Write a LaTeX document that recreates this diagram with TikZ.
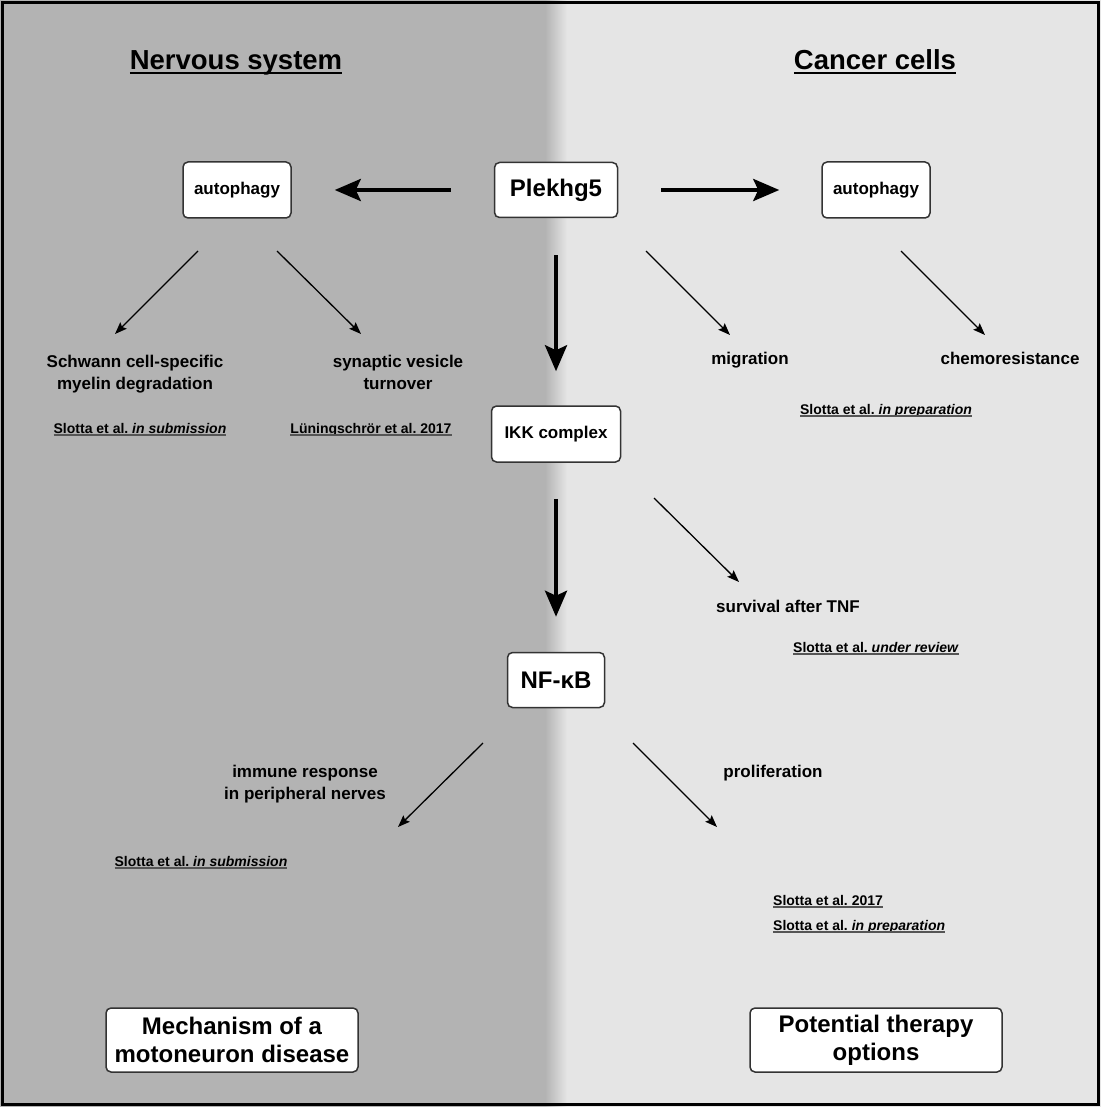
\documentclass[tikz,border=0pt]{standalone}
\usepackage{fontspec}
\setmainfont{Liberation Sans}
\usetikzlibrary{arrows.meta, calc}
\frenchspacing

\definecolor{darkbg}{HTML}{B3B3B3}
\definecolor{lightbg}{HTML}{E5E5E5}
\definecolor{ulgray}{HTML}{555555}
\definecolor{boxline}{HTML}{333333}

% underlined texts (citations gray, headings black)
\newsavebox{\ulbox}
\newcommand{\refline}[1]{\sbox{\ulbox}{#1}\usebox{\ulbox}\llap{\color{ulgray}\rule[-3pt]{\wd\ulbox}{1.6pt}}}
\newcommand{\headline}[1]{\sbox{\ulbox}{#1}\usebox{\ulbox}\llap{\rule[-4.5pt]{\wd\ulbox}{2.4pt}}}

\begin{document}
\begin{tikzpicture}[
  x=1pt, y=-1pt,
  box/.style={
    draw=boxline,
    line width=1.5pt,
    fill=white,
    rounded corners=5pt,
    inner sep=0pt,
    font=\fontsize{17}{21}\selectfont\bfseries
  },
  bigbox/.style={box, align=center, font=\fontsize{24}{28}\selectfont\bfseries},
  txt/.style={inner sep=0pt, align=center, font=\fontsize{17}{22}\selectfont\bfseries},
  citetext/.style={inner sep=0pt, font=\fontsize{14}{17}\selectfont\bfseries},
  head/.style={inner sep=0pt, font=\fontsize{27.5}{31}\selectfont\bfseries},
  fat/.style={-{Stealth[length=26pt, width=22pt, inset=5pt]}, line width=4pt},
  slim/.style={-{Stealth[length=12pt, width=9pt, inset=2pt]}, line width=1.3pt}
]

\useasboundingbox (0,0) rectangle (1101,1107);

% --- Background: two halves ---
\fill[darkbg] (0,0) rectangle (545,1107);
\shade[left color=darkbg, right color=lightbg] (545,0) rectangle (567,1107);
\fill[lightbg] (567,0) rectangle (1101,1107);
\draw[line width=2.5pt] (2.5,2.5) rectangle (1098.5,1104.5);

% --- Headings ---
\node[head, anchor=base] (nerv) at (236,70) {\headline{Nervous system}};
\node[head, anchor=base] (canc) at (875,70) {\headline{Cancer cells}};

% --- Blocks ---
\node[box, minimum width=108pt, minimum height=56pt] (autoL) at (237,190) {autophagy};
\node[bigbox, minimum width=123pt, minimum height=55pt] (plek) at (556,190) {Plekhg5};
\node[box, minimum width=108pt, minimum height=56pt] (autoR) at (876,190) {autophagy};
\node[box, minimum width=129pt, minimum height=56pt] (ikk) at (556,434) {IKK complex};
\node[bigbox, minimum width=97pt, minimum height=55pt] (nfkb) at (556,680) {NF-κB};

\node[bigbox, minimum width=252pt, minimum height=64pt] (mech) at (232,1040)
  {Mechanism of a\\motoneuron disease};
\node[bigbox, minimum width=252pt, minimum height=64pt] (ther) at (876,1040)
  {Potential therapy\\options};

% --- Main pathway (thick arrows) ---
\draw[fat, shorten <=43pt, shorten >=43pt] (plek) -- (autoL);
\draw[fat, shorten <=43pt, shorten >=42pt] (plek) -- (autoR);
\draw[fat, shorten <=37pt, shorten >=34pt] (plek) -- (ikk);
\draw[fat, shorten <=36pt, shorten >=35pt] (ikk) -- (nfkb);

% --- Effects ---
\node[txt] (myel) at (135,374) {Schwann cell-specific\\myelin degradation};
\node[txt] (syn)  at (398,372) {synaptic vesicle\\turnover};
\node[txt, anchor=base] (migr)  at (750,364) {migration};
\node[txt, anchor=base] (chemo) at (1010,364) {chemoresistance};
\node[txt, anchor=base] (surv)  at (788,612) {survival after TNF};
\node[txt] (imm) at (305,784) {immune response\\in peripheral nerves};
\node[txt, anchor=base] (prol) at (773,777) {proliferation};

% --- Citations ---
\node[citetext, anchor=base] (c1) at (140,433) {\refline{Slotta et al. \textit{in submission}}};
\node[citetext, anchor=base] (c2) at (371,433) {\refline{Lüningschrör et al. 2017}};
\node[citetext, anchor=base] (c3) at (886,414) {\refline{Slotta et al. \textit{in preparation}}};
\node[citetext, anchor=base] (c4) at (876,652) {\refline{Slotta et al. \textit{under review}}};
\node[citetext, anchor=base] (c5) at (201,866) {\refline{Slotta et al. \textit{in submission}}};
\node[citetext, anchor=base west] (c6) at (773,905) {\refline{Slotta et al. 2017}};
\node[citetext, anchor=base west] (c7) at (773,930) {\refline{Slotta et al. \textit{in preparation}}};

% --- Thin arrows (start / tip) ---
\foreach \name/\pos in {a1/{198,251}, a1t/{115,334}, a2/{277,251}, a2t/{361,334},
    a3/{646,251}, a3t/{730,335}, a4/{901,251}, a4t/{985,335},
    a5/{654,498}, a5t/{739,582}, a6/{483,743}, a6t/{398,827},
    a7/{633,743}, a7t/{717,827}}
  \coordinate (\name) at (\pos);

\foreach \s in {a1,a2,a3,a4,a5,a6,a7}
  \draw[slim] (\s) -- (\s t);

\end{tikzpicture}
\end{document}
